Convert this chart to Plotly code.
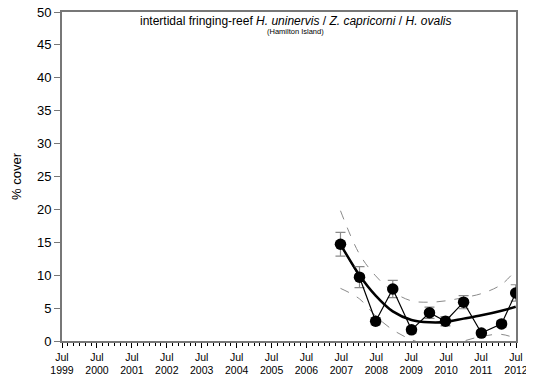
import plotly.graph_objects as go

# ---- data ----
dates = ["2007-06-22", "2008-01-07", "2008-06-24", "2008-12-20", "2009-07-04",
         "2010-01-08", "2010-06-24", "2010-12-31", "2011-07-05", "2012-02-01",
         "2012-06-28"]
cover = [14.7, 9.7, 3.0, 7.9, 1.7, 4.3, 3.0, 5.9, 1.2, 2.6, 7.3]
cover_se = [1.8, 1.6, 0.5, 1.3, 0.5, 0.85, 0.7, 1.0, 0.4, 0.5, 1.25]

fit = [14.7, 10.0, 6.9, 4.5, 3.2, 2.85, 2.9, 3.4, 3.9, 4.6, 5.2]
upper = [19.8, 13.2, 9.9, 7.5, 6.1, 5.9, 6.1, 6.6, 7.2, 8.6, 10.8]
lower = [8.0, 6.4, 3.8, 1.7, 0.2, -0.6, -0.6, 0.0, 0.7, 1.0, 0.4]

tick_years = list(range(1999, 2013))
tick_dates = [f"{y}-07-01" for y in tick_years]
tick_text = [f"Jul<br>{y}" for y in tick_years]

y_ticks = [0, 5, 10, 15, 20, 25, 30, 35, 40, 45, 50]

AX = "#777777"
FONT = "Liberation Sans, Arial, sans-serif"

fig = go.Figure()

fig.add_trace(go.Scatter(x=dates, y=upper, mode="lines", line=dict(color="#8a8a8a", width=1, dash="dash", shape="spline"),
                         hoverinfo="skip", showlegend=False))
fig.add_trace(go.Scatter(x=dates, y=lower, mode="lines", line=dict(color="#8a8a8a", width=1, dash="dash", shape="spline"),
                         hoverinfo="skip", showlegend=False))
fig.add_trace(go.Scatter(x=dates, y=fit, mode="lines", line=dict(color="black", width=2.5, shape="spline"),
                         showlegend=False))
fig.add_trace(go.Scatter(
    x=dates, y=cover, mode="lines+markers",
    line=dict(color="black", width=1.2),
    marker=dict(color="black", size=11.5),
    error_y=dict(type="data", array=cover_se, color="#8a8a8a", thickness=1.2, width=5),
    showlegend=False))

fig.add_annotation(x=0.515, y=0.974, xref="paper", yref="paper", yanchor="middle",
                   text="intertidal fringing-reef <i>H. uninervis</i> / <i>Z. capricorni</i> / <i>H. ovalis</i>",
                   showarrow=False, font=dict(size=12, color="black", family=FONT))
fig.add_annotation(x=0.515, y=0.941, xref="paper", yref="paper", yanchor="middle",
                   text="(Hamilton Island)", showarrow=False,
                   font=dict(size=7.5, color="black", family=FONT))

fig.update_xaxes(
    type="date", range=["1999-07-01", "2012-07-01"],
    tickvals=tick_dates, ticktext=tick_text, tickangle=0,
    ticks="outside", ticklen=5, tickcolor="black", tickwidth=1,
    minor=dict(dtick="M2", ticks="outside", ticklen=3, tickcolor="black", tickwidth=1),
    showline=True, linecolor=AX, linewidth=2, mirror=True,
    showgrid=False, zeroline=False, automargin=False, ticklabeloverflow="allow",
    tickfont=dict(size=10.5, color="black", family=FONT))
fig.update_yaxes(
    range=[0, 50], tickvals=y_ticks,
    ticks="outside", ticklen=6, tickcolor=AX, tickwidth=1,
    showline=True, linecolor=AX, linewidth=2, mirror=True,
    showgrid=False, zeroline=False, automargin=False, ticklabeloverflow="allow",
    title=dict(text="% cover", font=dict(size=13, color="black", family=FONT), standoff=12),
    tickfont=dict(size=13, color="black", family=FONT))

# page has an 8px body margin, so the figure is offset by (8, 8)
fig.update_layout(
    width=526, height=370,
    margin=dict(l=54, r=18, t=4, b=37),
    plot_bgcolor="white", paper_bgcolor="white",
    font=dict(family=FONT))

fig.write_html("out.html")
